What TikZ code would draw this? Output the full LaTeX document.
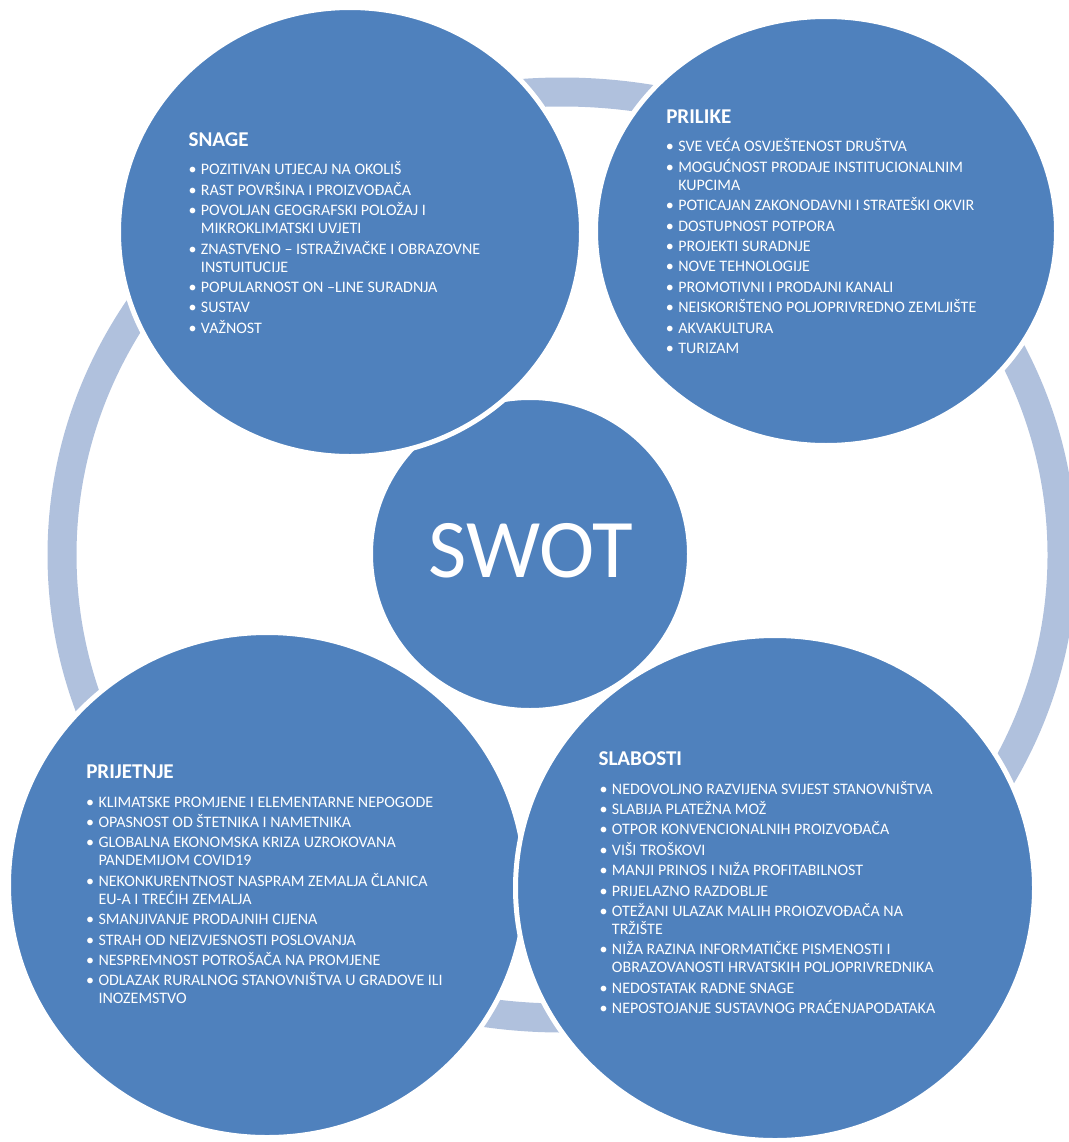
\documentclass[tikz,border=0pt]{standalone}
\usepackage{fontspec}
\setmainfont{Carlito}
\usepackage{tikz}

\definecolor{swotblue}{RGB}{79,129,189}
\definecolor{ringblue}{RGB}{176,193,221}

\newcommand{\blt}{\strut\makebox[9.3pt][l]{•}}
\newcommand{\cnt}{\strut\hspace*{9.3pt}}
\newcommand{\itemfont}{\fontsize{12}{13.5}\selectfont\lineskiplimit=-20pt\relax}

\begin{document}
\begin{tikzpicture}[x=0.75pt,y=0.75pt,yscale=-1,xscale=1,
  blob/.style={fill=swotblue,draw=white,line width=3.75pt},
  head/.style={anchor=base west,inner sep=0pt,text=white,font=\fontsize{15.8}{18}\selectfont\bfseries},
  items/.style={anchor=north west,inner sep=0pt,text=white,align=left,font=\itemfont}]
\useasboundingbox (0,0) rectangle (1069,1142);

% Ring
\draw [color=ringblue, line width=21.75pt] (562,555) ellipse (500 and 463);

% Shape: Ellipse
\draw [blob] (530,554) ellipse (159.5 and 156.5);
% Shape: Ellipse
\draw [blob] (350,232) ellipse (231.5 and 224.5);
% Shape: Ellipse
\draw [blob] (826,231) ellipse (230.5 and 214.5);
% Shape: Ellipse
\draw [blob] (267,885) ellipse (258.5 and 252.5);
% Shape: Ellipse
\draw [blob] (775,888) ellipse (259.5 and 252.5);

% Text Node
\draw (531,551) node [inner sep=0pt,text=white,font=\fontsize{62.5}{70}\selectfont] (swot) {SWOT};

% Text Node
\draw (188.3,146.8) node [head] (snage) {SNAGE};
% Text Node
\draw (188.3,161.5) node [items] (snagelist) {\blt POZITIVAN UTJECAJ NA OKOLIŠ\\[1.8pt]
\blt RAST POVRŠINA I PROIZVOĐAČA\\[1.8pt]
\blt POVOLJAN GEOGRAFSKI POLOŽAJ I\\
\cnt MIKROKLIMATSKI UVJETI\\[1.8pt]
\blt ZNASTVENO – ISTRAŽIVAČKE I OBRAZOVNE\\
\cnt INSTUITUCIJE\\[1.8pt]
\blt POPULARNOST ON –LINE SURADNJA\\[1.8pt]
\blt SUSTAV\\[1.8pt]
\blt VAŽNOST};

% Text Node
\draw (666,123.8) node [head] (prilike) {PRILIKE};
% Text Node
\draw (665.6,138.2) node [items] (prilikelist) {\blt SVE VEĆA OSVJEŠTENOST DRUŠTVA\\[1.8pt]
\blt MOGUĆNOST PRODAJE INSTITUCIONALNIM\\
\cnt KUPCIMA\\[1.8pt]
\blt POTICAJAN ZAKONODAVNI I STRATEŠKI OKVIR\\[1.8pt]
\blt DOSTUPNOST POTPORA\\[1.8pt]
\blt PROJEKTI SURADNJE\\[1.8pt]
\blt NOVE TEHNOLOGIJE\\[1.8pt]
\blt PROMOTIVNI I PRODAJNI KANALI\\[1.8pt]
\blt NEISKORIŠTENO POLJOPRIVREDNO ZEMLJIŠTE\\[1.8pt]
\blt AKVAKULTURA\\[1.8pt]
\blt TURIZAM};

% Text Node
\draw (86,778.5) node [head] (prijetnje) {PRIJETNJE};
% Text Node
\draw (85.9,794.2) node [items] (prijetnjelist) {\blt KLIMATSKE PROMJENE I ELEMENTARNE NEPOGODE\\[1.8pt]
\blt OPASNOST OD ŠTETNIKA I NAMETNIKA\\[1.8pt]
\blt GLOBALNA EKONOMSKA KRIZA UZROKOVANA\\
\cnt PANDEMIJOM COVID19\\[1.8pt]
\blt NEKONKURENTNOST NASPRAM ZEMALJA ČLANICA\\
\cnt EU-A I TREĆIH ZEMALJA\\[1.8pt]
\blt SMANJIVANJE PRODAJNIH CIJENA\\[1.8pt]
\blt STRAH OD NEIZVJESNOSTI POSLOVANJA\\[1.8pt]
\blt NESPREMNOST POTROŠAČA NA PROMJENE\\[1.8pt]
\blt ODLAZAK RURALNOG STANOVNIŠTVA U GRADOVE ILI\\
\cnt INOZEMSTVO};

% Text Node
\draw (598.3,765.1) node [head] (slabosti) {SLABOSTI};
% Text Node
\draw (599.3,780.8) node [items] (slabostilist) {\blt NEDOVOLJNO RAZVIJENA SVIJEST STANOVNIŠTVA\\[1.8pt]
\blt SLABIJA PLATEŽNA MOŽ\\[1.8pt]
\blt OTPOR KONVENCIONALNIH PROIZVOĐAČA\\[1.8pt]
\blt VIŠI TROŠKOVI\\[1.8pt]
\blt MANJI PRINOS I NIŽA PROFITABILNOST\\[1.8pt]
\blt PRIJELAZNO RAZDOBLJE\\[1.8pt]
\blt OTEŽANI ULAZAK MALIH PROIOZVOĐAČA NA\\
\cnt TRŽIŠTE\\[1.8pt]
\blt NIŽA RAZINA INFORMATIČKE PISMENOSTI I\\
\cnt OBRAZOVANOSTI HRVATSKIH POLJOPRIVREDNIKA\\[1.8pt]
\blt NEDOSTATAK RADNE SNAGE\\[1.8pt]
\blt NEPOSTOJANJE SUSTAVNOG PRAĆENJAPODATAKA};

\end{tikzpicture}
\end{document}
